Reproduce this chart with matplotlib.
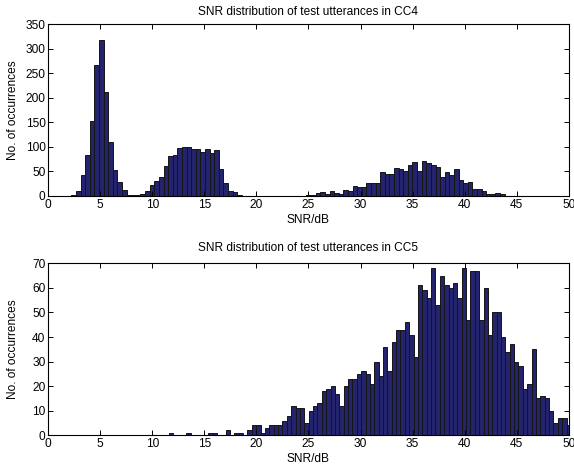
import numpy as np
import matplotlib
matplotlib.use("Agg")
import matplotlib.pyplot as plt

plt.rcParams['font.family'] = ['Liberation Sans', 'DejaVu Sans']

# CC4 histogram (100 bins)
cc4_start = 1.77
cc4_width = 0.443
cc4_counts = [1, 3, 10, 42, 83, 154, 268, 318, 213, 110,
              54, 29, 12, 3, 3, 3, 5, 11, 22, 30,
              38, 61, 82, 83, 97, 101, 101, 96, 95, 90,
              95, 88, 93, 56, 27, 11, 8, 3, 1, 0,
              0, 0, 0, 0, 0, 0, 1, 1, 1, 0,
              1, 0, 3, 3, 6, 8, 4, 11, 7, 5,
              12, 11, 20, 18, 18, 27, 27, 27, 49, 44,
              45, 58, 56, 50, 63, 69, 51, 72, 68, 63,
              60, 39, 48, 42, 56, 33, 26, 28, 14, 14,
              10, 5, 5, 7, 4, 1, 0, 1, 1, 1]

# CC5 histogram
cc5_start = 11.58
cc5_width = 0.42
cc5_counts = [1, 0, 0, 0, 1, 0, 0, 0, 0, 1,
              1, 0, 0, 2, 0, 1, 1, 0, 2, 4,
              4, 1, 3, 4, 4, 4, 6, 8, 12, 11,
              11, 5, 10, 12, 13, 18, 19, 20, 17, 12,
              20, 23, 23, 25, 26, 25, 21, 30, 24, 36,
              26, 38, 43, 43, 46, 41, 32, 61, 59, 56,
              68, 53, 65, 61, 60, 62, 56, 68, 47, 67,
              67, 47, 60, 41, 50, 50, 40, 34, 37, 30,
              28, 19, 21, 35, 15, 16, 15, 10, 5, 7,
              7, 4]

titles = ["SNR distribution of test utterances in CC4",
          "SNR distribution of test utterances in CC5"]
xlabel = "SNR/dB"
ylabel = "No. of occurrences"
xticks = list(range(0, 51, 5))
yticks_cc4 = list(range(0, 351, 50))
yticks_cc5 = list(range(0, 71, 10))

face = '#24246e'
edge = '#151515'

fig = plt.figure(figsize=(5.74, 4.68), dpi=100)
ax1 = fig.add_axes([0.0841, 0.5812, 0.9066, 0.3665])
ax2 = fig.add_axes([0.0841, 0.0699, 0.9066, 0.3675])

def draw(ax, start, width, counts, yticks, title, tpad):
    counts = np.asarray(counts, dtype=float)
    edges = start + width * np.arange(len(counts) + 1)
    ax.hist(edges[:-1], bins=edges, weights=counts, color=face,
            edgecolor=edge, linewidth=0.7)
    ax.set_xlim(0, 50)
    ax.set_ylim(yticks[0], yticks[-1])
    ax.set_xticks(xticks)
    ax.set_yticks(yticks)
    ax.tick_params(direction='in', top=True, right=True, labelsize=8.6,
                   length=3.5, width=0.7, pad=2)
    for s in ax.spines.values():
        s.set_linewidth(0.8)
    ax.set_title(title, fontsize=8.6, pad=tpad)
    ax.set_xlabel(xlabel, fontsize=8.6, labelpad=2)
    ax.set_ylabel(ylabel, fontsize=8.6)
    ax.yaxis.set_label_coords(-0.056, 0.5)

draw(ax1, cc4_start, cc4_width, cc4_counts, yticks_cc4, titles[0], 7)
draw(ax2, cc5_start, cc5_width, cc5_counts, yticks_cc5, titles[1], 9)

fig.savefig("out.png", dpi=100)
